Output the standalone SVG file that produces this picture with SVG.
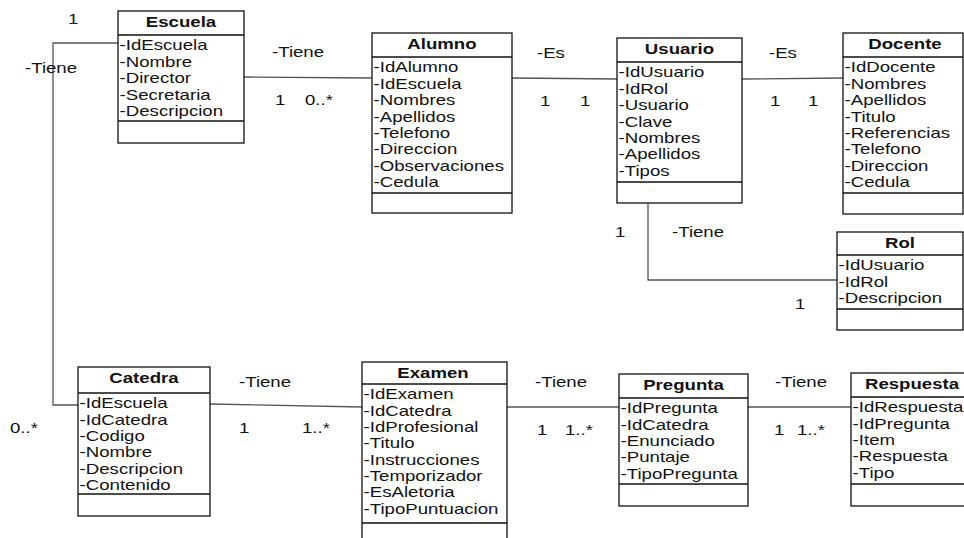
<svg xmlns="http://www.w3.org/2000/svg" width="964" height="538" viewBox="0 0 964 538">
  <style>
    text { font-family: "Liberation Sans", Arial, sans-serif; font-size: 14px; fill: #111; }
    .h { font-weight: bold; text-anchor: middle; }
    .box { fill: #fff; stroke: #111; stroke-width: 1.3; }
    .sep { stroke: #111; stroke-width: 1.3; }
    .conn { fill: none; stroke: #555; stroke-width: 1.3; }
  </style>
  <rect width="964" height="538" fill="#fff"/>

  <!-- associations -->
  <g id="connectors">
    <polyline class="conn" points="118,43 53,43 53,405 78,405"/>
    <line class="conn" x1="244" y1="77" x2="372" y2="78"/>
    <line class="conn" x1="512" y1="78" x2="617" y2="79"/>
    <line class="conn" x1="742" y1="79" x2="843" y2="78"/>
    <polyline class="conn" points="648,203 648,280 837,280"/>
    <line class="conn" x1="210" y1="404" x2="362" y2="407"/>
    <line class="conn" x1="507" y1="407" x2="619" y2="407"/>
    <line class="conn" x1="748" y1="407" x2="851" y2="407"/>
  </g>

  <!-- association labels and multiplicities -->
  <g id="labels">
    <text transform="translate(68,24) scale(1.33,1)">1</text>
    <text transform="translate(25,73) scale(1.33,1)">-Tiene</text>
    <text transform="translate(10,433) scale(1.33,1)">0..*</text>
    <text transform="translate(272,57) scale(1.33,1)">-Tiene</text>
    <text transform="translate(275,105) scale(1.33,1)">1</text>
    <text transform="translate(305,105) scale(1.33,1)">0..*</text>
    <text transform="translate(537,58) scale(1.33,1)">-Es</text>
    <text transform="translate(540,106) scale(1.33,1)">1</text>
    <text transform="translate(580,106) scale(1.33,1)">1</text>
    <text transform="translate(769,58) scale(1.33,1)">-Es</text>
    <text transform="translate(770,106) scale(1.33,1)">1</text>
    <text transform="translate(808,106) scale(1.33,1)">1</text>
    <text transform="translate(615,237) scale(1.33,1)">1</text>
    <text transform="translate(672,237) scale(1.33,1)">-Tiene</text>
    <text transform="translate(795,309) scale(1.33,1)">1</text>
    <text transform="translate(239,387) scale(1.33,1)">-Tiene</text>
    <text transform="translate(239,433) scale(1.33,1)">1</text>
    <text transform="translate(302,433) scale(1.33,1)">1..*</text>
    <text transform="translate(535,387) scale(1.33,1)">-Tiene</text>
    <text transform="translate(537,435) scale(1.33,1)">1</text>
    <text transform="translate(565,435) scale(1.33,1)">1..*</text>
    <text transform="translate(775,387) scale(1.33,1)">-Tiene</text>
    <text transform="translate(774,435) scale(1.33,1)">1</text>
    <text transform="translate(797,435) scale(1.33,1)">1..*</text>
  </g>

  <g id="escuela">
    <rect class="box" x="118" y="11" width="126" height="132"/>
    <line class="sep" x1="118" y1="35" x2="244" y2="35"/>
    <line class="sep" x1="118" y1="121" x2="244" y2="121"/>
    <g transform="translate(118,0) scale(1.33,1)">
      <text class="h" x="47.4" y="27.5">Escuela</text>
      <text x="1.2" y="50.5">-IdEscuela</text>
      <text x="1.2" y="67">-Nombre</text>
      <text x="1.2" y="83.5">-Director</text>
      <text x="1.2" y="100">-Secretaria</text>
      <text x="1.2" y="116.5">-Descripcion</text>
    </g>
  </g>

  <g id="alumno">
    <rect class="box" x="372" y="33" width="140" height="180"/>
    <line class="sep" x1="372" y1="57" x2="512" y2="57"/>
    <line class="sep" x1="372" y1="193" x2="512" y2="193"/>
    <g transform="translate(372,0) scale(1.33,1)">
      <text class="h" x="52.6" y="49.5">Alumno</text>
      <text x="1.2" y="72.5">-IdAlumno</text>
      <text x="1.2" y="88.9">-IdEscuela</text>
      <text x="1.2" y="105.3">-Nombres</text>
      <text x="1.2" y="121.7">-Apellidos</text>
      <text x="1.2" y="138.1">-Telefono</text>
      <text x="1.2" y="154.5">-Direccion</text>
      <text x="1.2" y="170.9">-Observaciones</text>
      <text x="1.2" y="187.3">-Cedula</text>
    </g>
  </g>

  <g id="usuario">
    <rect class="box" x="617" y="38" width="125" height="165"/>
    <line class="sep" x1="617" y1="62" x2="742" y2="62"/>
    <line class="sep" x1="617" y1="182" x2="742" y2="182"/>
    <g transform="translate(617,0) scale(1.33,1)">
      <text class="h" x="47" y="54.5">Usuario</text>
      <text x="1.2" y="77.5">-IdUsuario</text>
      <text x="1.2" y="93.9">-IdRol</text>
      <text x="1.2" y="110.3">-Usuario</text>
      <text x="1.2" y="126.7">-Clave</text>
      <text x="1.2" y="143.1">-Nombres</text>
      <text x="1.2" y="159.5">-Apellidos</text>
      <text x="1.2" y="175.9">-Tipos</text>
    </g>
  </g>

  <g id="docente">
    <rect class="box" x="843" y="33" width="120" height="181"/>
    <line class="sep" x1="843" y1="57" x2="963" y2="57"/>
    <line class="sep" x1="843" y1="193" x2="963" y2="193"/>
    <g transform="translate(843,0) scale(1.33,1)">
      <text class="h" x="46.6" y="49.5">Docente</text>
      <text x="1.2" y="72.5">-IdDocente</text>
      <text x="1.2" y="88.9">-Nombres</text>
      <text x="1.2" y="105.3">-Apellidos</text>
      <text x="1.2" y="121.7">-Titulo</text>
      <text x="1.2" y="138.1">-Referencias</text>
      <text x="1.2" y="154.5">-Telefono</text>
      <text x="1.2" y="170.9">-Direccion</text>
      <text x="1.2" y="187.3">-Cedula</text>
    </g>
  </g>

  <g id="rol">
    <rect class="box" x="837" y="232" width="126" height="98"/>
    <line class="sep" x1="837" y1="255" x2="963" y2="255"/>
    <line class="sep" x1="837" y1="309" x2="963" y2="309"/>
    <g transform="translate(837,0) scale(1.33,1)">
      <text class="h" x="47.4" y="248.5">Rol</text>
      <text x="1.2" y="270.5">-IdUsuario</text>
      <text x="1.2" y="286.9">-IdRol</text>
      <text x="1.2" y="303.3">-Descripcion</text>
    </g>
  </g>

  <g id="catedra">
    <rect class="box" x="78" y="367" width="132" height="149"/>
    <line class="sep" x1="78" y1="393" x2="210" y2="393"/>
    <line class="sep" x1="78" y1="494" x2="210" y2="494"/>
    <g transform="translate(78,0) scale(1.33,1)">
      <text class="h" x="49.6" y="383.5">Catedra</text>
      <text x="1.2" y="408.5">-IdEscuela</text>
      <text x="1.2" y="424.8">-IdCatedra</text>
      <text x="1.2" y="441.1">-Codigo</text>
      <text x="1.2" y="457.4">-Nombre</text>
      <text x="1.2" y="473.7">-Descripcion</text>
      <text x="1.2" y="490">-Contenido</text>
    </g>
  </g>

  <g id="examen">
    <rect class="box" x="362" y="362" width="145" height="190"/>
    <line class="sep" x1="362" y1="384" x2="507" y2="384"/>
    <line class="sep" x1="362" y1="523" x2="507" y2="523"/>
    <g transform="translate(362,0) scale(1.33,1)">
      <text class="h" x="53.4" y="378.5">Examen</text>
      <text x="1.2" y="399.5">-IdExamen</text>
      <text x="1.2" y="415.8">-IdCatedra</text>
      <text x="1.2" y="432.1">-IdProfesional</text>
      <text x="1.2" y="448.4">-Titulo</text>
      <text x="1.2" y="464.7">-Instrucciones</text>
      <text x="1.2" y="481">-Temporizador</text>
      <text x="1.2" y="497.3">-EsAletoria</text>
      <text x="1.2" y="513.6">-TipoPuntuacion</text>
    </g>
  </g>

  <g id="pregunta">
    <rect class="box" x="619" y="374" width="129" height="132"/>
    <line class="sep" x1="619" y1="398" x2="748" y2="398"/>
    <line class="sep" x1="619" y1="484" x2="748" y2="484"/>
    <g transform="translate(619,0) scale(1.33,1)">
      <text class="h" x="48.5" y="390.5">Pregunta</text>
      <text x="1.2" y="413.5">-IdPregunta</text>
      <text x="1.2" y="429.8">-IdCatedra</text>
      <text x="1.2" y="446.1">-Enunciado</text>
      <text x="1.2" y="462.4">-Puntaje</text>
      <text x="1.2" y="478.7">-TipoPregunta</text>
    </g>
  </g>

  <g id="respuesta">
    <rect class="box" x="851" y="373" width="130" height="133"/>
    <line class="sep" x1="851" y1="397" x2="981" y2="397"/>
    <line class="sep" x1="851" y1="484" x2="981" y2="484"/>
    <g transform="translate(851,0) scale(1.33,1)">
      <text class="h" x="45.9" y="389.5">Respuesta</text>
      <text x="1.2" y="412.5">-IdRespuesta</text>
      <text x="1.2" y="428.8">-IdPregunta</text>
      <text x="1.2" y="445.1">-Item</text>
      <text x="1.2" y="461.4">-Respuesta</text>
      <text x="1.2" y="477.7">-Tipo</text>
    </g>
  </g>
</svg>
